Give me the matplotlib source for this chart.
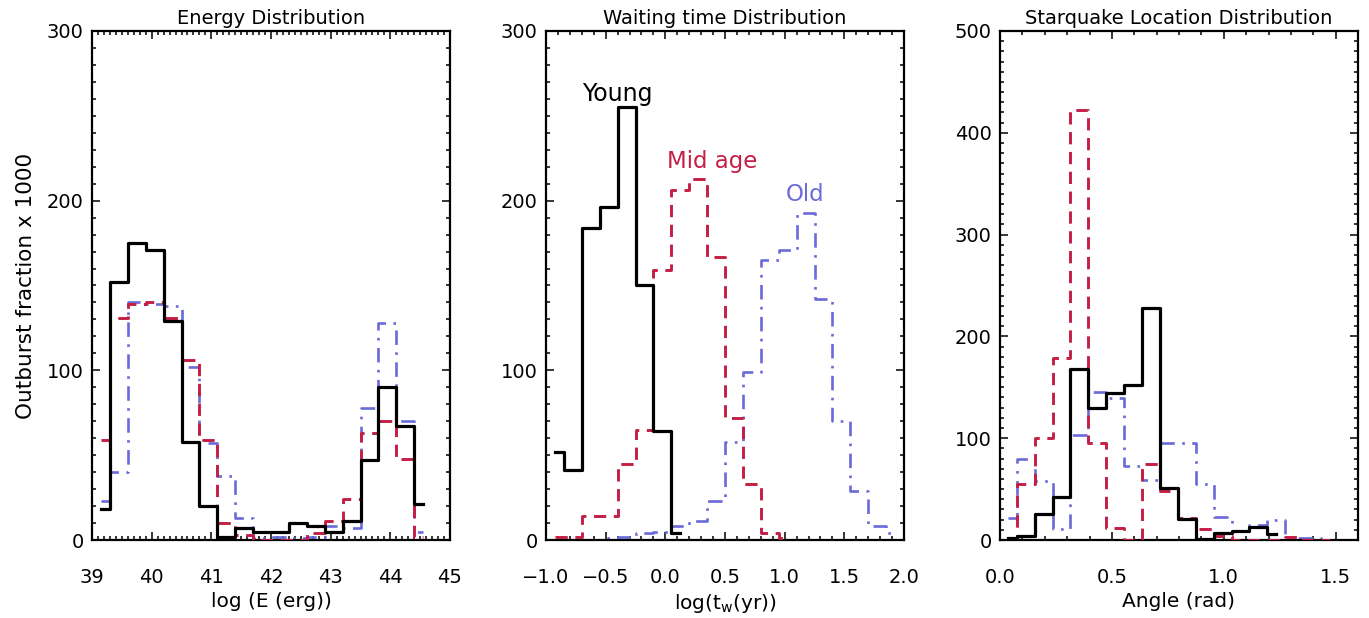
import numpy as np
import matplotlib
matplotlib.use("Agg")
import matplotlib.pyplot as plt
from matplotlib.ticker import MultipleLocator

plt.rcParams['font.family'] = ['DejaVu Sans']

# ---------------- data ----------------
# Energy distribution (bin centres in log E, width 0.3)
E_centers = np.round(39.15 + 0.3 * np.arange(19), 2)
E_young = [18, 152, 175, 171, 129, 58, 20, 2, 7, 5, 5, 10, 8, 5, 11, 47, 90, 67, 21]
E_mid   = [59, 131, 139, 140, 131, 106, 59, 10, 3, 0, 0, 0, 4, 11, 24, 63, 70, 48, 2]
E_old   = [23, 40, 140, 139, 138, 102, 57, 38, 13, 1, 2, 1, 1.5, 8, 7, 78, 128, 70, 5]

# Waiting time distribution (bin centres in log t_w, width 0.15)
T_centers = np.round(-0.925 + 0.15 * np.arange(20), 3)
T_young = [52, 41, 184, 196, 255, 150, 64, 4]
T_mid   = [2, 2, 14, 14, 45, 65, 159, 206, 213, 167, 72, 33, 4, 1]
T_old   = [0, 0, 0, 1, 1.5, 4, 5, 8.5, 11, 23, 58, 99, 165, 171, 193, 142, 70, 29, 8, 4]

# Starquake location distribution (bin centres in rad, width 0.08)
A_centers = np.round(0.035 + 0.08 * np.arange(19), 3)
A_young = [2, 4, 26, 42, 168, 130, 144, 152, 228, 51, 21, 1, 6.5, 9, 13, 6]
A_mid   = [2, 55, 100, 179, 422, 95, 12, 0, 75, 48, 22, 11, 4, 0, 0, 0, 3, 0, 0]
A_old   = [22, 80, 58, 11, 103, 145, 139, 73, 59, 95, 95, 55, 23, 9, 15, 20, 2, 2, 0]

titles = ["Energy Distribution", "Waiting time Distribution", "Starquake Location Distribution"]
xlabels = ["log (E (erg))", r"log(t$_\mathrm{w}$(yr))", "Angle (rad)"]
ylabel = "Outburst fraction x 1000"
group_labels = ["Young", "Mid age", "Old"]

# ---------------- style ----------------
C_YOUNG = "black"
C_MID = "#C41E45"
C_OLD = "#6A6AD8"

fig = plt.figure(figsize=(13.69, 6.18), dpi=100)
W, H = 1369.0, 618.0
top_px, bot_px = 31, 540
lefts = [92, 546, 1000]
width_px = 358
axes = [fig.add_axes([l / W, 1 - bot_px / H, width_px / W, (bot_px - top_px) / H]) for l in lefts]

def draw(ax, centers, young, mid, old):
    ax.step(centers[:len(old)], old, where='mid', color=C_OLD, lw=1.9,
            dashes=(5.5, 2.8, 1.0, 2.8), zorder=2)
    ax.step(centers[:len(mid)], mid, where='mid', color=C_MID, lw=2.1,
            dashes=(4.2, 2.6), zorder=3)
    ax.step(centers[:len(young)], young, where='mid', color=C_YOUNG, lw=2.3, zorder=4)

draw(axes[0], E_centers, E_young, E_mid, E_old)
draw(axes[1], T_centers, T_young, T_mid, T_old)
draw(axes[2], A_centers, A_young, A_mid, A_old)

settings = [
    dict(xlim=(39, 45), xmaj=1, xmin=0.1, ylim=(0, 300), fmt="{:.0f}"),
    dict(xlim=(-1, 2), xmaj=0.5, xmin=0.1, ylim=(0, 300), fmt="{:.1f}"),
    dict(xlim=(0, 1.6), xmaj=0.5, xmin=0.1, ylim=(0, 500), fmt="{:.1f}"),
]

for ax, s, t, xl in zip(axes, settings, titles, xlabels):
    ax.set_xlim(*s['xlim'])
    ax.set_ylim(*s['ylim'])
    ax.xaxis.set_major_locator(MultipleLocator(s['xmaj']))
    ax.xaxis.set_minor_locator(MultipleLocator(s['xmin']))
    ax.yaxis.set_major_locator(MultipleLocator(100))
    ax.yaxis.set_minor_locator(MultipleLocator(10))
    ticks = np.arange(s['xlim'][0], s['xlim'][1] + 1e-9, s['xmaj'])
    ax.set_xticks(ticks)
    ax.set_xticklabels([s['fmt'].format(v).replace('-', '\u2212') for v in ticks])
    ax.tick_params(which='both', direction='in', top=True, right=True, width=1.1)
    ax.tick_params(which='major', length=5.5)
    ax.tick_params(which='minor', length=2.8)
    ax.tick_params(axis='x', which='major', pad=20, labelsize=14)
    ax.tick_params(axis='y', which='major', pad=6, labelsize=14)
    for sp in ax.spines.values():
        sp.set_linewidth(1.6)
    ax.set_title(t, fontsize=14, pad=5)
    ax.set_xlabel(xl, fontsize=14.5, labelpad=4)

axes[0].set_ylabel(ylabel, fontsize=15.5, labelpad=8)

axes[1].text(-0.70, 259, group_labels[0], color=C_YOUNG, fontsize=17, ha='left', va='baseline')
axes[1].text(0.01, 219, group_labels[1], color=C_MID, fontsize=16.5, ha='left', va='baseline')
axes[1].text(1.01, 200, group_labels[2], color=C_OLD, fontsize=16.5, ha='left', va='baseline')

fig.savefig("out.png", dpi=100)
